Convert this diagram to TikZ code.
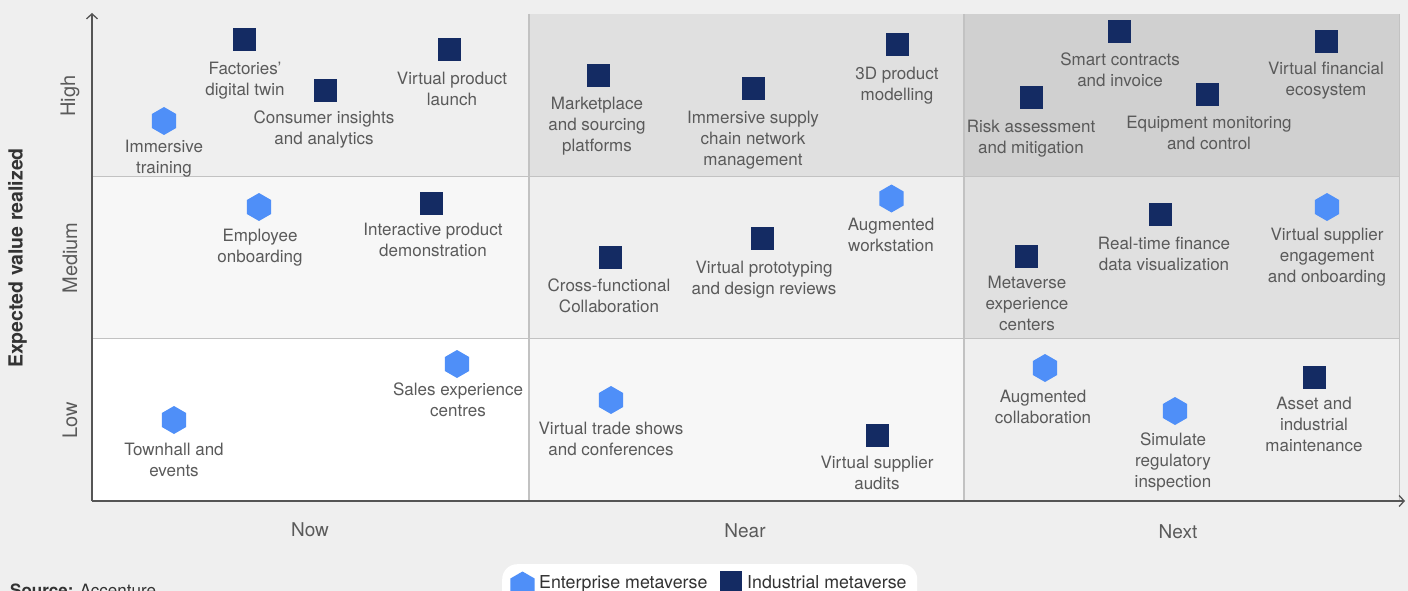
\documentclass[tikz,border=0pt]{standalone}
\usepackage{fontspec}
\setmainfont{TeX Gyre Heros}
\usetikzlibrary{shapes.geometric,arrows.meta}
\definecolor{bgc}{HTML}{EFEFEF}
\definecolor{cA}{HTML}{FFFFFF}
\definecolor{cB}{HTML}{F7F7F7}
\definecolor{cC}{HTML}{EFEFEF}
\definecolor{cD}{HTML}{E0E0E0}
\definecolor{cE}{HTML}{D0D0D0}
\definecolor{gridc}{HTML}{C2C2C2}
\definecolor{axisc}{HTML}{555555}
\definecolor{txtc}{HTML}{5A5A5A}
\definecolor{darktxt}{HTML}{333333}
\definecolor{entblue}{HTML}{4F8FF8}
\definecolor{indnavy}{HTML}{142B63}
\begin{document}
\begin{tikzpicture}[x=1pt,y=-1pt,
  hexm/.style={regular polygon, regular polygon sides=6, shape border rotate=30,
    minimum size=28pt, inner sep=0pt, outer sep=0pt, fill=entblue, draw=none},
  sqm/.style={rectangle, minimum size=23pt, inner sep=0pt, outer sep=0pt, fill=indnavy, draw=none},
  lbl/.style={font=\fontsize{17}{21}\selectfont, text=txtc, align=center, anchor=north, inner sep=0pt},
  ticklbl/.style={font=\fontsize{19}{22}\selectfont, text=txtc, inner sep=0pt},
  levlbl/.style={font=\fontsize{20}{22}\selectfont, text=txtc, inner sep=0pt, rotate=90},
  gridline/.style={draw=gridc, line width=1.5pt},
  axisline/.style={draw=axisc, line width=1.5pt, -{Straight Barb[length=5pt,width=11pt,line width=1.3pt]}}
]
\clip (0,0) rectangle (1408,591);
\fill[bgc] (0,0) rectangle (1408,591);
% cells
\fill[cC] (92,14) rectangle (529,176.5);
\fill[cB] (92,176.5) rectangle (529,338.5);
\fill[cA] (92,338.5) rectangle (529,501);
\fill[cD] (529,14) rectangle (964,176.5);
\fill[cC] (529,176.5) rectangle (964,338.5);
\fill[cB] (529,338.5) rectangle (964,501);
\fill[cE] (964,14) rectangle (1399,176.5);
\fill[cD] (964,176.5) rectangle (1399,338.5);
\fill[cC] (964,338.5) rectangle (1399,501);
% grid lines
\draw[gridline] (92,176.5) -- (1399,176.5);
\draw[gridline] (92,338.5) -- (1399,338.5);
\draw[gridline] (529,14) -- (529,501);
\draw[gridline] (964,14) -- (964,501);
\draw[draw=gridc, line width=1pt] (1399,14) -- (1399,501);
% axes
\coordinate (origin) at (92,501);
\coordinate (ytip) at (92,13);
\coordinate (xtip) at (1405,501);
\draw[axisline] (origin) -- (ytip);
\draw[axisline] (origin) -- (xtip);
% axis labels
\node[levlbl] (high) at (70,96) {High};
\node[levlbl] (medium) at (70,258) {Medium};
\node[levlbl] (low) at (70,420) {Low};
\node[font=\bfseries\fontsize{19.5}{22}\selectfont, text=darktxt, rotate=90, inner sep=0pt] (ylab) at (17.5,258) {Expected value realized};
\node[ticklbl] (now) at (310,530) {Now};
\node[ticklbl] (near) at (745,531) {Near};
\node[ticklbl] (next) at (1178,532) {Next};
% Now column
\node[hexm] (m1) at (164,121) {};
\node[lbl] (l1) at (164,140) {Immersive\\training};
\node[sqm] (m2) at (244,40) {};
\node[lbl] (l2) at (245,62) {Factories'\\digital twin};
\node[sqm] (m3) at (325,91) {};
\node[lbl] (l3) at (324,111) {Consumer insights\\and analytics};
\node[sqm] (m4) at (449,50) {};
\node[lbl] (l4) at (452,72) {Virtual product\\launch};
\node[hexm] (m5) at (259,207) {};
\node[lbl] (l5) at (260,229) {Employee\\onboarding};
\node[sqm] (m6) at (431,203) {};
\node[lbl] (l6) at (433,223) {Interactive product\\demonstration};
\node[hexm] (m7) at (457,364) {};
\node[lbl] (l7) at (458,383) {Sales experience\\centres};
\node[hexm] (m8) at (174,420) {};
\node[lbl] (l8) at (174,443) {Townhall and\\events};
% Near column
\node[sqm] (m9) at (598,76) {};
\node[lbl] (l9) at (597,97) {Marketplace\\and sourcing\\platforms};
\node[sqm] (m10) at (753,89) {};
\node[lbl] (l10) at (753,111) {Immersive supply\\chain network\\management};
\node[sqm] (m11) at (897,45) {};
\node[lbl] (l11) at (897,67) {3D product\\modelling};
\node[sqm] (m12) at (610,257) {};
\node[lbl] (l12) at (609,279) {Cross-functional\\Collaboration};
\node[sqm] (m13) at (762,238) {};
\node[lbl] (l13) at (764,261) {Virtual prototyping\\and design reviews};
\node[hexm] (m14) at (891.5,198.5) {};
\node[lbl] (l14) at (891,218) {Augmented\\workstation};
\node[hexm] (m15) at (611,400) {};
\node[lbl] (l15) at (611,422) {Virtual trade shows\\and conferences};
\node[sqm] (m16) at (877,435) {};
\node[lbl] (l16) at (877,456) {Virtual supplier\\audits};
% Next column
\node[sqm] (m17) at (1119.5,31.5) {};
\node[lbl] (l17) at (1120,53) {Smart contracts\\and invoice};
\node[sqm] (m18) at (1326.5,41.5) {};
\node[lbl] (l18) at (1326,62) {Virtual financial\\ecosystem};
\node[sqm] (m19) at (1031.5,97.5) {};
\node[lbl] (l19) at (1031,120) {Risk assessment\\and mitigation};
\node[sqm] (m20) at (1207.5,94.5) {};
\node[lbl] (l20) at (1209,116) {Equipment monitoring\\and control};
\node[sqm] (m21) at (1026,256) {};
\node[lbl] (l21) at (1027,276) {Metaverse\\experience\\centers};
\node[sqm] (m22) at (1160,214) {};
\node[lbl] (l22) at (1164,237) {Real-time finance\\data visualization};
\node[hexm] (m23) at (1327,207) {};
\node[lbl] (l23) at (1327,228) {Virtual supplier\\engagement\\and onboarding};
\node[hexm] (m24) at (1045,368) {};
\node[lbl] (l24) at (1043,390) {Augmented\\collaboration};
\node[hexm] (m25) at (1175,411) {};
\node[lbl] (l25) at (1173,433) {Simulate\\regulatory\\inspection};
\node[sqm] (m26) at (1314,377) {};
\node[lbl] (l26) at (1314,397) {Asset and\\industrial\\maintenance};
% legend
\node[draw=none, fill=white, rounded corners=15pt, minimum width=415pt, minimum height=46pt, inner sep=0pt, anchor=north west] (legend) at (502,564) {};
\node[hexm] (lgh) at (522.5,585.5) {};
\node[font=\fontsize{17.8}{21}\selectfont, text=darktxt, anchor=base west, inner sep=0pt] (lgt1) at (539,588) {Enterprise metaverse};
\node[sqm, minimum size=22pt] (lgs) at (731,582) {};
\node[font=\fontsize{17.8}{21}\selectfont, text=darktxt, anchor=base west, inner sep=0pt] (lgt2) at (747,588) {Industrial metaverse};
% source
\node[font=\fontsize{17}{21}\selectfont, text=darktxt, anchor=base west, inner sep=0pt] (src) at (10,596) {\textbf{Source:} Accenture};
\end{tikzpicture}
\end{document}
